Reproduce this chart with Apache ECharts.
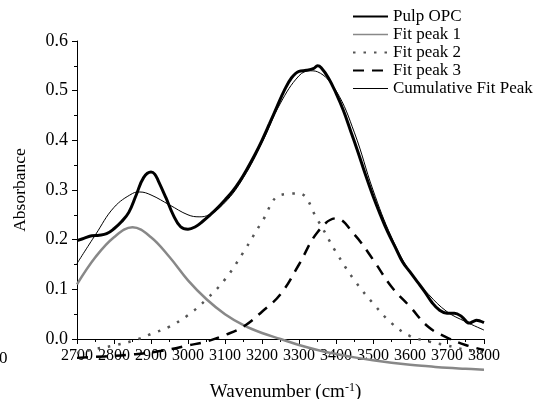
<!DOCTYPE html>
<html>
<head>
<meta charset="utf-8">
<script src="https://cdn.jsdelivr.net/npm/echarts@6/dist/echarts.min.js"></script>
<style>
  html, body { margin: 0; padding: 0; background: #fff; }
  #chart { width: 534px; height: 399px; }
</style>
</head>
<body>
<div id="chart"></div>
<script>
// measured spectrum
const pulpWn = [2700, 2720, 2740, 2760, 2780, 2800, 2820, 2840, 2860, 2880, 2900, 2910, 2920, 2940, 2960, 2980,
  3000, 3020, 3040, 3060, 3080, 3100, 3120, 3140, 3160, 3180, 3200, 3220, 3240, 3260, 3280, 3300, 3320, 3340,
  3350, 3360, 3380, 3400, 3420, 3440, 3460, 3480, 3500, 3520, 3540, 3560, 3580, 3600, 3620, 3640, 3660, 3680,
  3700, 3720, 3740, 3760, 3770, 3780, 3790, 3800];
const pulpAbs = [0.198, 0.203, 0.208, 0.209, 0.212, 0.222, 0.236, 0.255, 0.290, 0.325, 0.336, 0.332, 0.318, 0.285, 0.250, 0.226,
  0.221, 0.226, 0.237, 0.250, 0.264, 0.280, 0.297, 0.318, 0.343, 0.370, 0.400, 0.433, 0.467, 0.500, 0.526, 0.539, 0.541, 0.545,
  0.550, 0.546, 0.525, 0.495, 0.460, 0.418, 0.375, 0.330, 0.288, 0.250, 0.215, 0.185, 0.155, 0.135, 0.115, 0.095, 0.073, 0.058,
  0.052, 0.052, 0.045, 0.032, 0.035, 0.038, 0.036, 0.033];

// fitted peaks
const fitWn = [2700, 2750, 2800, 2850, 2900, 2950, 3000, 3050, 3100, 3150, 3200, 3250, 3300, 3350, 3400, 3450,
  3500, 3550, 3600, 3650, 3700, 3750, 3800];
const peak1 = [0.110, 0.165, 0.205, 0.225, 0.205, 0.165, 0.118, 0.080, 0.050, 0.028, 0.012, 0.000, -0.012, -0.022, -0.030, -0.037,
  -0.043, -0.048, -0.052, -0.055, -0.058, -0.060, -0.062];
const peak2 = [-0.028, -0.020, -0.013, -0.004, 0.010, 0.025, 0.048, 0.080, 0.120, 0.175, 0.236, 0.290, 0.293, 0.240, 0.175, 0.118,
  0.072, 0.032, 0.006, -0.005, -0.013, -0.022, -0.028];
const peak3 = [-0.038, -0.036, -0.034, -0.031, -0.027, -0.021, -0.013, -0.005, 0.008, 0.025, 0.055, 0.090, 0.150, 0.215, 0.243, 0.210,
  0.160, 0.105, 0.065, 0.024, 0.003, -0.012, -0.022];
const cumWn = [2700, 2750, 2800, 2850, 2870, 2900, 2950, 3000, 3030, 3050, 3100, 3150, 3200, 3250, 3300, 3330, 3350,
  3400, 3450, 3500, 3550, 3600, 3650, 3700, 3750, 3800];
const cumAbs = [0.152, 0.210, 0.265, 0.293, 0.296, 0.290, 0.270, 0.250, 0.246, 0.248, 0.275, 0.325, 0.395, 0.475, 0.530, 0.540, 0.538,
  0.500, 0.415, 0.300, 0.205, 0.135, 0.090, 0.055, 0.035, 0.018];

const seriesNames = ['Pulp OPC', 'Fit peak 1', 'Fit peak 2', 'Fit peak 3', 'Cumulative Fit Peak'];

const font = 'Liberation Serif';
const zip = (xs, ys) => xs.map((x, i) => [x, ys[i]]);

const chart = echarts.init(document.getElementById('chart'));

chart.setOption({
  backgroundColor: '#fff',
  animation: false,
  grid: { left: 77, right: 50, top: 41, bottom: 60, containLabel: false, outerBoundsMode: 'none' },
  legend: {
    orient: 'vertical',
    left: 347,
    top: 3,
    itemWidth: 35,
    itemHeight: 14,
    itemGap: 1,
    itemStyle: { opacity: 0 },
    textStyle: { fontFamily: font, fontSize: 17, color: '#000' },
    data: [
      { name: seriesNames[0] },
      { name: seriesNames[1], lineStyle: { width: 1.5 } },
      { name: seriesNames[2] },
      { name: seriesNames[3] },
      { name: seriesNames[4], lineStyle: { width: 1 } }
    ]
  },
  xAxis: {
    type: 'value',
    min: 2700,
    max: 3800,
    interval: 100,
    name: '{a|Wavenumber (cm}{s|-1}{a|)}',
    nameLocation: 'middle',
    nameGap: 43,
    nameTextStyle: {
      padding: [0, 0, 0, 10],
      rich: {
        a: { fontFamily: font, fontSize: 19, color: '#000' },
        s: { fontFamily: font, fontSize: 12, color: '#000', verticalAlign: 'bottom', padding: [0, 0, 9, 0] }
      }
    },
    axisLine: { onZero: false, lineStyle: { color: '#000', width: 1 } },
    axisTick: { inside: false, length: 5, lineStyle: { color: '#000' } },
    minorTick: { show: true, splitNumber: 2, length: 3, lineStyle: { color: '#000' } },
    splitLine: { show: false },
    axisLabel: { fontFamily: font, fontSize: 16, color: '#000', margin: 9, hideOverlap: false, formatter: v => String(v) }
  },
  yAxis: {
    type: 'value',
    min: 0,
    max: 0.6,
    interval: 0.1,
    name: 'Absorbance',
    nameLocation: 'middle',
    nameGap: 48,
    nameTextStyle: { fontFamily: font, fontSize: 17.5, color: '#000' },
    axisLine: { show: true, lineStyle: { color: '#000', width: 1 } },
    axisTick: { inside: false, length: 5, lineStyle: { color: '#000' } },
    minorTick: { show: true, splitNumber: 2, length: 3, lineStyle: { color: '#000' } },
    splitLine: { show: false },
    axisLabel: { fontFamily: font, fontSize: 18, color: '#000', margin: 9, formatter: v => v.toFixed(1) }
  },
  graphic: [{
    type: 'text',
    left: -1,
    top: 350,
    style: { text: '0', fontFamily: font, fontSize: 17, fill: '#000' }
  }],
  series: [
    {
      name: seriesNames[0], type: 'line', data: zip(pulpWn, pulpAbs),
      smooth: 0.4, symbol: 'none', clip: false, z: 5,
      lineStyle: { color: '#000', width: 3 }, itemStyle: { color: '#000' }
    },
    {
      name: seriesNames[1], type: 'line', data: zip(fitWn, peak1),
      smooth: 0.4, symbol: 'none', clip: false,
      lineStyle: { color: '#888', width: 2.5 }, itemStyle: { color: '#888' }
    },
    {
      name: seriesNames[2], type: 'line', data: zip(fitWn, peak2),
      smooth: 0.4, symbol: 'none', clip: false,
      lineStyle: { color: '#555', width: 2.5, type: [2.5, 8] }, itemStyle: { color: '#555' }
    },
    {
      name: seriesNames[3], type: 'line', data: zip(fitWn, peak3),
      smooth: 0.4, symbol: 'none', clip: false,
      lineStyle: { color: '#000', width: 2.5, type: [11, 8] }, itemStyle: { color: '#000' }
    },
    {
      name: seriesNames[4], type: 'line', data: zip(cumWn, cumAbs),
      smooth: 0.4, symbol: 'none', clip: false, z: 6,
      lineStyle: { color: '#000', width: 1 }, itemStyle: { color: '#000' }
    }
  ]
});
</script>
</body>
</html>
